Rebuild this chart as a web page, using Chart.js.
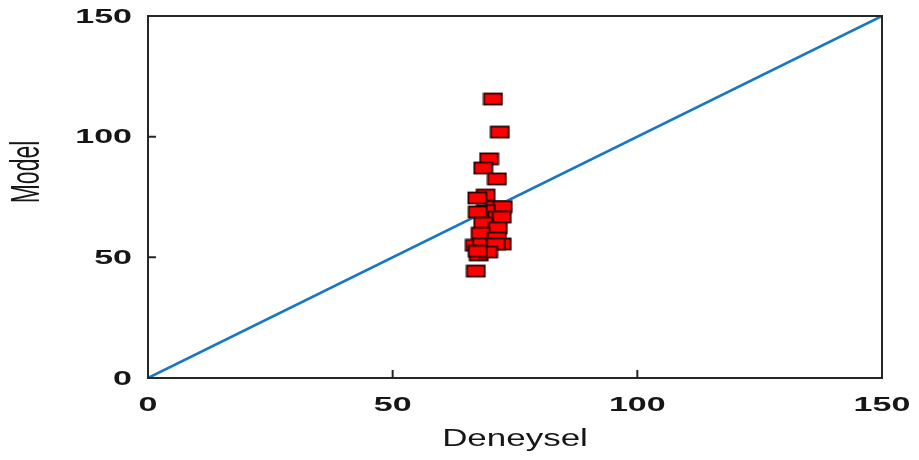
<!DOCTYPE html>
<html>
<head>
<meta charset="utf-8">
<script src="https://cdn.jsdelivr.net/npm/chart.js@4"></script>
<style>
  html, body { margin: 0; padding: 0; background: #ffffff; }
  #wrap { width: 919px; height: 460px; }
</style>
</head>
<body>
<div id="wrap"><canvas id="c" width="919" height="460"></canvas></div>
<script>
// Measured (Deneysel) versus predicted (Model) values
const deneysel = [70.5, 71.9, 69.7, 68.5, 71.3, 69.0, 67.3, 71.0, 72.5, 69.0, 67.4, 71.4, 72.3,
                  68.5, 71.5, 68.0, 71.3, 72.3, 66.8, 68.3, 71.1, 67.6, 69.5, 67.4, 67.0];
const model    = [115.6, 101.9, 90.8, 87.0, 82.5, 75.8, 74.6, 71.0, 71.0, 69.4, 68.8, 66.7, 66.7,
                  64.2, 62.2, 60.0, 58.0, 55.5, 55.0, 55.5, 55.5, 51.0, 52.2, 52.5, 44.3];
// Reference line y = x
const lineX = [0, 150];
const lineY = [0, 150];
const tickValues = [0, 50, 100, 150];
const xTitle = 'Deneysel';
const yTitle = 'Model';

// Red rectangular marker with a dark outline
function makeMarker() {
  const w = 19, h = 12;
  const cv = document.createElement('canvas');
  cv.width = w + 2; cv.height = h + 2;
  const g = cv.getContext('2d');
  g.fillStyle = '#ff0000';
  g.fillRect(1, 1, w, h);
  g.strokeStyle = '#2a0000';
  g.lineWidth = 1.8;
  g.strokeRect(1.5, 1.5, w - 1, h - 1);
  return cv;
}

const FONT = '"Liberation Sans", Arial, sans-serif';

// Text drawn with a horizontal stretch factor
function stretchedText(ctx, text, x, y, font, align, baseline, stretch, rotate) {
  ctx.save();
  ctx.font = font;
  ctx.fillStyle = '#161616';
  ctx.textAlign = align;
  ctx.textBaseline = baseline;
  ctx.translate(x, y);
  ctx.scale(stretch, 1);
  if (rotate) ctx.rotate(-Math.PI / 2);
  ctx.fillText(text, 0, 0);
  ctx.restore();
}

const framePlugin = {
  id: 'frame',
  afterDatasetsDraw(chart) {
    const { ctx, chartArea: a, scales: { x, y } } = chart;
    ctx.save();
    ctx.strokeStyle = '#262626';
    ctx.lineWidth = 2;
    ctx.strokeRect(a.left, a.top, a.right - a.left, a.bottom - a.top);
    // inward tick marks
    ctx.beginPath();
    tickValues.forEach(v => {
      const px = x.getPixelForValue(v);
      ctx.moveTo(px, a.bottom); ctx.lineTo(px, a.bottom - 8);
      const py = y.getPixelForValue(v);
      ctx.moveTo(a.left, py); ctx.lineTo(a.left + 8, py);
    });
    ctx.stroke();
    ctx.restore();

    const tickFont = 'bold 21px ' + FONT;
    tickValues.forEach(v => {
      stretchedText(ctx, String(v), x.getPixelForValue(v), a.bottom + 27, tickFont, 'center', 'middle', 1.62);
      stretchedText(ctx, String(v), a.left - 16, y.getPixelForValue(v) + 1, tickFont, 'right', 'middle', 1.62);
    });
    stretchedText(ctx, xTitle, (a.left + a.right) / 2, a.bottom + 62, '23px ' + FONT, 'center', 'middle', 1.52);
    stretchedText(ctx, yTitle, 28, 172, '23px ' + FONT, 'center', 'middle', 1.75, true);
  }
};

const points = deneysel.map((v, i) => ({ x: v, y: model[i] }));
const linePts = lineX.map((v, i) => ({ x: v, y: lineY[i] }));

new Chart(document.getElementById('c'), {
  type: 'scatter',
  data: {
    datasets: [
      {
        label: 'Model',
        data: points,
        pointStyle: makeMarker(),
        pointRadius: 8,
        order: 0
      },
      {
        type: 'line',
        label: 'y = x',
        data: linePts,
        borderColor: '#1877c2',
        borderWidth: 2.6,
        pointRadius: 0,
        fill: false,
        order: 1
      }
    ]
  },
  options: {
    responsive: false,
    animation: false,
    layout: { padding: { left: 148, right: 37, top: 16, bottom: 82 } },
    plugins: { legend: { display: false }, tooltip: { enabled: false } },
    scales: {
      x: {
        type: 'linear', min: 0, max: 150,
        grid: { display: false, drawTicks: false },
        border: { display: false },
        ticks: { display: false }
      },
      y: {
        type: 'linear', min: 0, max: 150,
        grid: { display: false, drawTicks: false },
        border: { display: false },
        ticks: { display: false }
      }
    }
  },
  plugins: [framePlugin]
});
</script>
</body>
</html>
